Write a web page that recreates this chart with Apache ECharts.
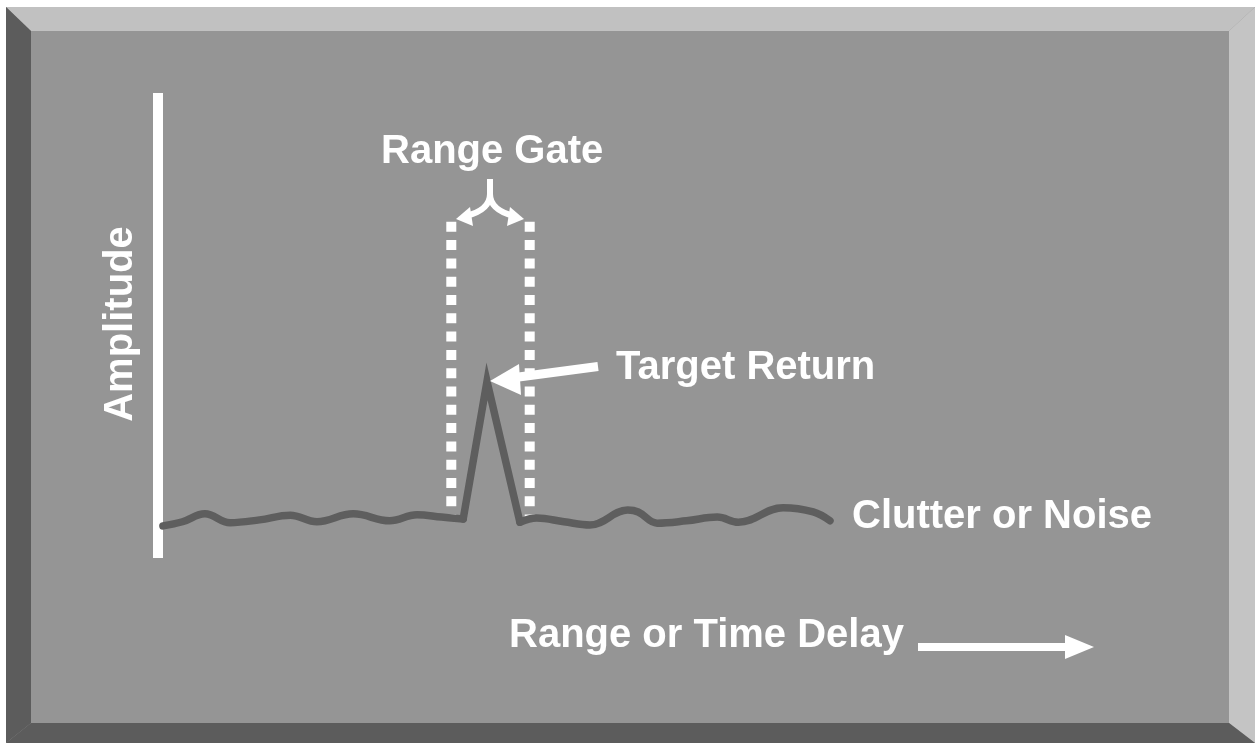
<!DOCTYPE html>
<html>
<head>
<meta charset="utf-8">
<script src="https://cdn.jsdelivr.net/npm/echarts@6/dist/echarts.min.js"></script>
<style>
html,body{margin:0;padding:0;background:#fff;}
#chart{width:1255px;height:743px;}
</style>
</head>
<body>
<div id="chart"></div>
<script>
// Range (time delay) on x: 0..100, amplitude on y: 0..10
var clutterBefore = [[0.7,0.69],[3.5,0.78],[6.7,0.95],[10.3,0.76],[14.5,0.82],[18.9,0.92],[22.7,0.78],[27.9,0.95],[33.1,0.80],[37.0,0.93],[40.5,0.88],[43.6,0.84]];
var targetSpike = [[43.6,0.84],[47.0,3.8],[51.7,0.77]];
var clutterAfter = [[51.7,0.77],[54.1,0.86],[58.0,0.78],[61.7,0.71],[67.1,1.03],[68.6,0.99],[71.3,0.75],[75.5,0.80],[79.9,0.88],[82.9,0.77],[89.3,1.08],[93.6,0.99],[96.0,0.80]];
var gateStart = 41.9;
var gateEnd = 53.1;
var gateTop = 7.23;
var gateBottom = 0.80;
var labels = {
  yName: 'Amplitude',
  xName: 'Range or Time Delay',
  gate: 'Range Gate',
  target: 'Target Return',
  clutter: 'Clutter or Noise'
};

var chart = echarts.init(document.getElementById('chart'), null, {renderer:'canvas'});
var FONT = '"Liberation Sans", Arial, sans-serif';
var traceStyle = {color:'#5e5e5e', width:7.5, cap:'round', join:'miter', miterLimit:12};
var gateStyle = {color:'#ffffff', width:10, type:[10,8.3], cap:'butt'};

function txt(text, x, y, rot, align){
  return {type:'text', z:100, silent:true, x:x, y:y, rotation:rot || 0,
    style:{text:text, fill:'#ffffff', font:'bold 40px ' + FONT, textAlign:align || 'left', textVerticalAlign:'middle'}};
}

var option = {
  backgroundColor:'#ffffff',
  animation:false,
  grid:{left:158, top:93, width:700, height:465},
  xAxis:{type:'value', min:0, max:100, show:false},
  yAxis:{type:'value', min:0, max:10,
    axisLine:{show:true, lineStyle:{color:'#ffffff', width:10, cap:'butt'}},
    axisTick:{show:false}, axisLabel:{show:false}, splitLine:{show:false}},
  graphic:[
    {type:'rect', z:-20, silent:true, shape:{x:6,y:7,width:1249,height:736}, style:{fill:'#959595'}},
    {type:'polygon', z:-10, silent:true, shape:{points:[[6,7],[1255,7],[1229,31],[31,31]]}, style:{fill:'#c1c1c1'}},
    {type:'polygon', z:-10, silent:true, shape:{points:[[1255,7],[1255,743],[1229,723],[1229,31]]}, style:{fill:'#c4c4c4'}},
    {type:'polygon', z:-10, silent:true, shape:{points:[[6,7],[31,31],[31,723],[6,743]]}, style:{fill:'#5c5c5c'}},
    {type:'polygon', z:-10, silent:true, shape:{points:[[6,743],[31,723],[1229,723],[1255,743]]}, style:{fill:'#5c5c5c'}},
    // brace for range gate
    {type:'line', z:100, silent:true, shape:{x1:490,y1:179,x2:490,y2:195}, style:{stroke:'#ffffff', lineWidth:6}},
    {type:'bezierCurve', z:100, silent:true, shape:{x1:490,y1:194,cpx1:490,cpy1:210,x2:466,y2:216}, style:{fill:'none', stroke:'#ffffff', lineWidth:6}},
    {type:'bezierCurve', z:100, silent:true, shape:{x1:490,y1:194,cpx1:490,cpy1:210,x2:514,y2:216}, style:{fill:'none', stroke:'#ffffff', lineWidth:6}},
    {type:'polygon', z:100, silent:true, shape:{points:[[456,219],[470,207],[473,226]]}, style:{fill:'#ffffff'}},
    {type:'polygon', z:100, silent:true, shape:{points:[[524,219],[510,207],[507,226]]}, style:{fill:'#ffffff'}},
    // target return arrow
    {type:'line', z:100, silent:true, shape:{x1:515,y1:377.5,x2:598,y2:366.5}, style:{stroke:'#ffffff', lineWidth:9}},
    {type:'polygon', z:100, silent:true, shape:{points:[[490,381],[519,364],[521,395]]}, style:{fill:'#ffffff'}},
    // range arrow
    {type:'rect', z:100, silent:true, shape:{x:918,y:643,width:150,height:8}, style:{fill:'#ffffff'}},
    {type:'polygon', z:100, silent:true, shape:{points:[[1065,635],[1094,647],[1065,659]]}, style:{fill:'#ffffff'}},
    txt(labels.gate, 381, 152),
    txt(labels.target, 616, 368),
    txt(labels.clutter, 852, 517),
    txt(labels.xName, 509, 636),
    txt(labels.yName, 121, 324, Math.PI/2, 'center')
  ],
  series:[
    {type:'line', name:'gateStart', data:[[gateStart,gateTop],[gateStart,gateBottom]], symbol:'none', silent:true, lineStyle:gateStyle, z:3},
    {type:'line', name:'gateEnd', data:[[gateEnd,gateTop],[gateEnd,gateBottom]], symbol:'none', silent:true, lineStyle:gateStyle, z:3},
    {type:'line', name:'clutterBefore', data:clutterBefore, smooth:0.4, symbol:'none', silent:true, lineStyle:traceStyle, z:4},
    {type:'line', name:'targetSpike', data:targetSpike, smooth:false, symbol:'none', silent:true, lineStyle:traceStyle, z:4},
    {type:'line', name:'clutterAfter', data:clutterAfter, smooth:0.4, symbol:'none', silent:true, lineStyle:traceStyle, z:4}
  ]
};
chart.setOption(option);
</script>
</body>
</html>
